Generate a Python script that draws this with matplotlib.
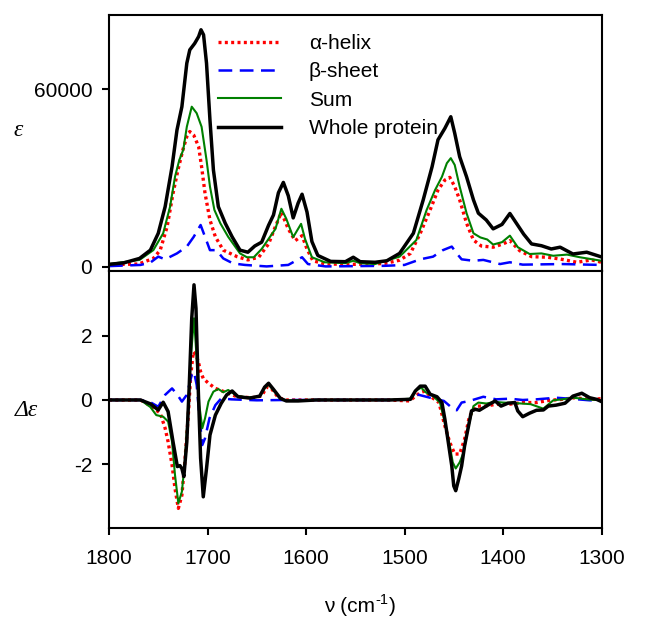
import matplotlib
matplotlib.use("Agg")
import matplotlib.pyplot as plt
from matplotlib.ticker import FixedLocator

plt.rcParams['font.family'] = ['Liberation Sans', 'DejaVu Sans']

# ---------------- data: top panel (epsilon) ----------------
wn_whole_abs = [1800, 1785, 1769, 1758, 1750, 1743, 1736, 1731, 1726, 1721, 1718, 1713, 1709, 1706.6,
                1704, 1701, 1697.5, 1694, 1689, 1682, 1675, 1667, 1659, 1652, 1645, 1638, 1633, 1628,
                1623, 1618, 1613, 1608, 1604, 1599, 1594, 1588, 1575, 1560, 1552, 1545, 1530, 1518,
                1505, 1491, 1481, 1472, 1466, 1459, 1453, 1449, 1444, 1437, 1430, 1425, 1417, 1410,
                1401, 1393, 1386, 1379, 1371, 1361, 1351, 1342, 1329, 1315, 1300]
eps_whole = [800, 1300, 2800, 5600, 11300, 20300, 33800, 46200, 54100, 68800, 73300, 75500, 77800, 80100,
             78400, 68800, 49600, 32700, 20300, 14700, 10100, 5600, 4900, 7000, 8300, 14000, 17500, 25000,
             28500, 24000, 16500, 21500, 24500, 18500, 8500, 3800, 1800, 1700, 3200, 1700, 1500, 2000,
             4500, 11300, 22600, 33800, 42900, 46800, 50700, 45100, 37200, 30400, 22600, 18100, 15800, 12800,
             14300, 18000, 14500, 11000, 7700, 7100, 6000, 6600, 4300, 4900, 3300]

wn_sum_abs = [1800, 1769, 1755, 1745, 1738, 1733, 1728.6, 1724.6, 1721, 1716, 1711, 1706, 1701, 1697.5,
              1693, 1687, 1679, 1667, 1660, 1653, 1645, 1638, 1631, 1625, 1620, 1613, 1605, 1601,
              1594, 1581, 1560, 1552, 1545, 1530, 1505, 1488, 1477.5, 1469, 1462, 1457, 1453, 1449,
              1444, 1437, 1430, 1423, 1416, 1410, 1401, 1393, 1385, 1373, 1361, 1349, 1335, 1322, 1300]
eps_sum = [900, 2300, 5600, 11300, 20300, 30400, 36100, 39500, 47300, 54100, 51900, 47300, 36100, 27100,
           19200, 14700, 10100, 4500, 3200, 3200, 6000, 9400, 12800, 19600, 16200, 10000, 14500, 9400,
           3200, 1500, 1200, 2000, 1200, 900, 3400, 9000, 19200, 25900, 30400, 35000, 36700, 34400,
           27100, 18100, 11300, 9900, 9200, 7500, 8300, 10500, 6600, 4300, 4500, 3700, 4100, 3200, 2000]

wn_alpha_abs = [1800, 1770, 1755, 1748, 1741, 1735, 1730, 1725, 1721, 1718, 1714, 1709, 1706, 1702.5,
                1697.5, 1692, 1684, 1670, 1659, 1648, 1638, 1632, 1625, 1618, 1611, 1604, 1599, 1593,
                1580, 1550, 1520, 1505, 1494, 1484, 1474, 1466, 1459, 1454, 1449, 1444, 1437, 1430,
                1422, 1410, 1400, 1393, 1383, 1371, 1355, 1342, 1325, 1310, 1300]
eps_alpha = [700, 900, 2800, 5600, 13500, 24800, 32700, 39500, 44000, 45700, 44500, 40600, 33800, 24800,
             15800, 10100, 5600, 3400, 2300, 3200, 7700, 12800, 18400, 12800, 8800, 10500, 6000, 2000,
             900, 800, 1100, 2200, 4500, 11300, 19200, 25900, 29300, 30200, 27100, 22600, 14700, 9000,
             7000, 6600, 7700, 8800, 5400, 3400, 3200, 2600, 1500, 2300, 1500]

wn_beta_abs = [1800, 1768, 1758, 1750, 1743, 1731, 1721, 1714, 1707, 1702.5, 1697.5, 1691, 1684, 1674,
               1662, 1640, 1618, 1604, 1598, 1580, 1520, 1500, 1484, 1471, 1461, 1452, 1447, 1442,
               1430, 1420, 1403, 1393, 1380, 1340, 1300]
eps_beta = [200, 600, 1400, 3400, 2500, 4500, 6800, 10100, 14100, 10100, 5600, 5600, 2800, 1100,
            600, 100, 600, 3200, 900, 100, 300, 600, 2500, 3400, 5600, 6800, 4500, 2500,
            2000, 2300, 900, 1500, 700, 900, 600]

# ---------------- data: bottom panel (delta epsilon) ----------------
wn_whole_cd = [1800, 1768, 1758, 1750, 1745, 1740, 1735, 1730.6, 1728, 1726, 1724, 1721, 1718.5, 1716,
               1713.7, 1711.7, 1709.3, 1707, 1704.3, 1701, 1697.5, 1692, 1686, 1680.5, 1675, 1669, 1657,
               1647, 1642, 1638, 1633, 1626, 1620, 1608, 1590, 1515, 1494, 1489, 1484, 1479, 1474,
               1467, 1462, 1459, 1456, 1452, 1450, 1448, 1445, 1442, 1439, 1435, 1432, 1428, 1424,
               1417, 1408, 1402, 1395, 1388, 1385, 1380, 1373, 1366, 1359, 1354, 1346, 1337, 1329,
               1320, 1312, 1305, 1300]
deps_whole = [0, 0, -0.12, -0.31, -0.07, -0.36, -1.3, -2.07, -2.04, -2.13, -2.38, -1.3, 0.47, 2.54,
              3.58, 2.85, 0.26, -1.81, -3.01, -2.13, -1.09, -0.47, -0.1, 0.16, 0.28, 0.1, 0.06,
              0.12, 0.4, 0.52, 0.33, 0.05, -0.03, -0.03, 0, 0, 0.02, 0.28, 0.43, 0.43, 0.18,
              0.1, -0.08, -0.6, -1.22, -2.05, -2.67, -2.82, -2.46, -2.05, -1.43, -0.81, -0.34, -0.29, -0.32,
              -0.19, -0.03, -0.19, -0.1, -0.08, -0.34, -0.52, -0.41, -0.32, -0.31, -0.19, -0.16, -0.1, 0.12,
              0.21, 0.07, 0.02, -0.05]

wn_sum_cd = [1800, 1768, 1758, 1752, 1745, 1740, 1736, 1733, 1729.6, 1726, 1723, 1720, 1717, 1713.7,
             1711, 1708.3, 1705.3, 1702.5, 1699, 1694, 1689, 1684, 1679, 1670, 1660, 1647, 1642, 1638,
             1633, 1626, 1620, 1600, 1515, 1494, 1488, 1483, 1478, 1471, 1464, 1459, 1454, 1451,
             1448, 1444, 1440, 1435, 1430, 1425, 1417, 1408, 1400, 1386, 1372, 1359, 1349, 1340,
             1328, 1315, 1300]
deps_sum = [0, 0, -0.22, -0.47, -0.52, -0.67, -1.3, -2.33, -3.21, -2.85, -1.92, -0.47, 1.3, 2.54,
            1.3, -0.16, -0.88, -0.57, -0.05, 0.26, 0.34, 0.24, 0.31, 0.13, 0.08, 0.1, 0.37, 0.48,
            0.3, 0.04, -0.02, 0, 0, 0.04, 0.31, 0.38, 0.23, 0.12, -0.08, -0.7, -1.43, -1.94,
            -2.13, -1.94, -1.63, -0.81, -0.19, -0.08, -0.11, -0.06, -0.08, -0.1, -0.13, -0.27, -0.01, 0.02,
            0.07, 0.02, -0.01]

wn_alpha_cd = [1800, 1768, 1758, 1748, 1743, 1740, 1736, 1733, 1729.6, 1726, 1723, 1719.5, 1717, 1714.4,
               1711.7, 1709.3, 1707, 1704.3, 1699, 1692, 1685, 1670, 1655, 1645, 1640, 1635, 1628,
               1620, 1515, 1495, 1484, 1479, 1474, 1465, 1459, 1454, 1449, 1444, 1439, 1434, 1427,
               1418, 1406, 1393, 1380, 1366, 1353, 1340, 1327, 1313, 1300]
deps_alpha = [0, 0, -0.18, -0.41, -0.88, -1.3, -2.02, -2.75, -3.37, -2.96, -1.92, -0.47, 0.78, 1.5,
              1.4, 1.19, 0.88, 0.67, 0.52, 0.36, 0.28, 0.1, 0.07, 0.12, 0.4, 0.35, 0.07,
              0, 0, -0.03, 0.23, 0.28, 0.12, -0.08, -0.81, -1.32, -1.68, -1.68, -1.22, -0.5, -0.19,
              -0.19, -0.13, -0.13, -0.08, -0.08, -0.01, 0.02, 0.07, 0.02, 0.04]

wn_beta_cd = [1800, 1768, 1758, 1750, 1743, 1736, 1731, 1726, 1721, 1716, 1713.7, 1711, 1708.3, 1705.3,
              1702.5, 1698, 1692, 1686, 1676, 1650, 1620, 1515, 1495, 1488, 1474, 1460, 1452, 1447,
              1442, 1434, 1420, 1407, 1393, 1380, 1366, 1346, 1332, 1312, 1300]
deps_beta = [0, 0, -0.07, -0.21, 0.16, 0.36, 0.18, -0.05, 0.16, 0.78, 0.88, 0.47, -0.47, -1.4,
             -1.19, -0.57, -0.16, 0.05, 0.02, -0.01, 0, 0, 0.02, 0.18, 0.07, -0.03, -0.24, -0.32,
             -0.08, -0.03, 0.1, 0.02, 0.04, 0, 0.02, 0.07, 0.04, -0.01, -0.01]

labels = ["\u03b1-helix", "\u03b2-sheet", "Sum", "Whole protein"]
x_ticks = [1800, 1700, 1600, 1500, 1400, 1300]
top_yticks = [0, 60000]
bot_yticks = [-2, 0, 2]

# ---------------- figure ----------------
W, H = 647, 617
fig = plt.figure(figsize=(W / 100, H / 100), dpi=100)
L = 109 / W
Wd = (601.5 - 109) / W
ax1 = fig.add_axes([L, 1 - 271 / H, Wd, (271 - 15) / H])
ax2 = fig.add_axes([L, 1 - 528 / H, Wd, (528 - 271) / H])

red_style = dict(color='#ff0000', lw=2.4, linestyle=(0, (0.9, 1.0)), dash_capstyle='butt')
blue_style = dict(color='#0000ff', lw=1.8, linestyle=(0, (5.5, 3.0)), dash_joinstyle='round')
green_style = dict(color='#008000', lw=1.5, solid_joinstyle='round')
black_style = dict(color='black', lw=2.5, solid_joinstyle='round')

la, = ax1.plot(wn_alpha_abs, eps_alpha, **red_style)
lb, = ax1.plot(wn_beta_abs, eps_beta, **blue_style)
ls, = ax1.plot(wn_sum_abs, eps_sum, **green_style)
lw, = ax1.plot(wn_whole_abs, eps_whole, **black_style)

ax2.plot(wn_alpha_cd, deps_alpha, **red_style)
ax2.plot(wn_beta_cd, deps_beta, **blue_style)
ax2.plot(wn_sum_cd, deps_sum, **green_style)
ax2.plot(wn_whole_cd, deps_whole, **black_style)

for ax in (ax1, ax2):
    ax.set_xlim(1800, 1300)
    for s in ax.spines.values():
        s.set_linewidth(1.5)
    ax.tick_params(axis='both', direction='out', length=5, width=1.5,
                   labelsize=15, pad=7, top=False, right=False)

ax1.set_ylim(-1450, 85100)
ax1.yaxis.set_major_locator(FixedLocator(top_yticks))
ax1.set_yticklabels([str(v) for v in top_yticks])
ax1.tick_params(axis='x', bottom=False, labelbottom=False)

ax2.set_ylim(-3.98, 4.01)
ax2.yaxis.set_major_locator(FixedLocator(bot_yticks))
ax2.set_yticklabels([str(v) for v in bot_yticks])
ax2.xaxis.set_major_locator(FixedLocator(x_ticks))
ax2.set_xticklabels([str(v) for v in x_ticks])
ax2.tick_params(axis='x', pad=10)

leg = ax1.legend([la, lb, ls, lw], labels, loc='upper left',
                 bbox_to_anchor=((218 - 109) / (601.5 - 109), 1 - (34 - 15) / 256),
                 frameon=False, fontsize=15, handlelength=3.0, handletextpad=1.35,
                 labelspacing=0.45, borderpad=0, borderaxespad=0)

fig.text(18 / W, 1 - 131 / H, "\u03b5", fontsize=17, family='Liberation Serif',
         style='italic', ha='center', va='center')
fig.text(26 / W, 1 - 411 / H, "\u0394\u03b5", fontsize=17, family='Liberation Serif',
         style='italic', ha='center', va='center')

# x label: "ν (cm" + superscript "-1" + ")"
renderer = fig.canvas.get_renderer()
yb = 1 - 612 / H
t1 = fig.text(0, yb, "\u03bd (cm", fontsize=15, ha='left', va='baseline')
t2 = fig.text(0, yb, "-1", fontsize=10.5, ha='left', va='baseline')
t3 = fig.text(0, yb, ")", fontsize=15, ha='left', va='baseline')
w1 = t1.get_window_extent(renderer).width
w2 = t2.get_window_extent(renderer).width
w3 = t3.get_window_extent(renderer).width
x0 = (109 + 601.5) / 2 + 4 - (w1 + w2 + w3) / 2
t1.set_x(x0 / W)
t2.set_x((x0 + w1 + 0.5) / W)
t2.set_y(yb + 8 / H)
t3.set_x((x0 + w1 + w2 + 1) / W)

fig.savefig("out.png", dpi=100)
